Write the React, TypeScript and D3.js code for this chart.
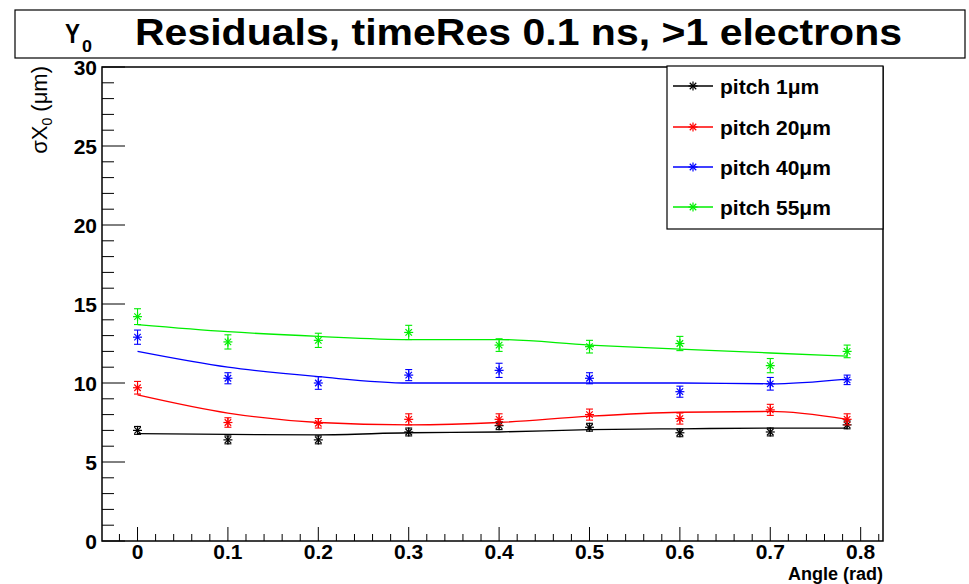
import React from 'react';
import * as d3 from 'd3';

const angles = [0, 0.1, 0.2, 0.3, 0.4, 0.5, 0.6, 0.7, 0.785];
const seriesNames = ['pitch 1μm', 'pitch 20μm', 'pitch 40μm', 'pitch 55μm'];
const seriesColors = ['#000000', '#ff0000', '#0000ff', '#00ee00'];

const pitch1 = [7.0, 6.4, 6.4, 6.9, 7.3, 7.2, 6.85, 6.9, 7.35];
const pitch1Err = [0.25, 0.25, 0.25, 0.25, 0.25, 0.25, 0.25, 0.25, 0.25];
const pitch1Fit = [6.8, 6.75, 6.72, 6.85, 6.9, 7.05, 7.1, 7.15, 7.15];

const pitch20 = [9.7, 7.5, 7.45, 7.7, 7.7, 8.0, 7.75, 8.3, 7.7];
const pitch20Err = [0.4, 0.3, 0.3, 0.35, 0.35, 0.35, 0.35, 0.35, 0.35];
const pitch20Fit = [9.25, 8.1, 7.5, 7.35, 7.5, 7.9, 8.15, 8.2, 7.7];

const pitch40 = [12.9, 10.3, 10.0, 10.5, 10.8, 10.3, 9.45, 9.95, 10.2];
const pitch40Err = [0.45, 0.35, 0.4, 0.35, 0.45, 0.35, 0.35, 0.4, 0.3];
const pitch40Fit = [12.0, 11.0, 10.4, 10.0, 10.0, 10.0, 10.0, 9.95, 10.25];

const pitch55 = [14.2, 12.6, 12.7, 13.2, 12.4, 12.3, 12.5, 11.1, 12.0];
const pitch55Err = [0.5, 0.45, 0.45, 0.45, 0.4, 0.4, 0.45, 0.45, 0.4];
const pitch55Fit = [13.7, 13.25, 12.95, 12.75, 12.75, 12.4, 12.15, 11.9, 11.7];

const seriesValues = [pitch1, pitch20, pitch40, pitch55];
const seriesErrors = [pitch1Err, pitch20Err, pitch40Err, pitch55Err];
const seriesFits = [pitch1Fit, pitch20Fit, pitch40Fit, pitch55Fit];

const xTickValues = [0, 0.1, 0.2, 0.3, 0.4, 0.5, 0.6, 0.7, 0.8];
const xTickLabels = ['0', '0.1', '0.2', '0.3', '0.4', '0.5', '0.6', '0.7', '0.8'];
const yTickValues = [0, 5, 10, 15, 20, 25, 30];
const yTickLabels = ['0', '5', '10', '15', '20', '25', '30'];

const titleText = 'Residuals, timeRes 0.1 ns, >1 electrons';
const xTitle = 'Angle (rad)';

const FONT = '"Liberation Sans", Arial, Helvetica, sans-serif';

export default function App() {
  const W = 969, H = 584;
  const fL = 102, fR = 883, fT = 67, fB = 541;
  const x = d3.scaleLinear().domain([-0.0393, 0.8247]).range([fL, fR]);
  const y = d3.scaleLinear().domain([0, 30]).range([fB, fT]);

  const line = d3.line<number>().curve(d3.curveMonotoneX);

  const xMinor = d3.range(-0.02, 0.8201, 0.02).filter(v => Math.abs(Math.round(v * 10) - v * 10) > 1e-6);
  const yMinor = d3.range(0, 31, 1).filter(v => v % 5 !== 0);

  const marker = (cx: number, cy: number, color: string, key: string) => {
    const s = 4.5;
    const d = s * 0.72;
    return (
      <g key={key} stroke={color} strokeWidth={1.2}>
        <line x1={cx - s} y1={cy} x2={cx + s} y2={cy} />
        <line x1={cx} y1={cy - s} x2={cx} y2={cy + s} />
        <line x1={cx - d} y1={cy - d} x2={cx + d} y2={cy + d} />
        <line x1={cx - d} y1={cy + d} x2={cx + d} y2={cy - d} />
      </g>
    );
  };

  const legendY = [86, 127, 167, 207];

  return (
    <svg width={W} height={H} style={{ position: 'absolute', left: 0, top: 0, background: '#fff' }}>
      <rect x={0} y={0} width={W} height={H} fill="#fff" />
      {/* Title box */}
      <rect x={15} y={10} width={950} height={48} fill="#fff" stroke="#000" strokeWidth={1.2} />
      <text x={65} y={43} fontFamily={FONT} fontSize={28} fontWeight="bold" textLength={15} lengthAdjust="spacingAndGlyphs">Y</text>
      <text x={82} y={52} fontFamily={FONT} fontSize={17} fontWeight="bold" textLength={10} lengthAdjust="spacingAndGlyphs">0</text>
      <text x={135} y={45} fontFamily={FONT} fontSize={36} fontWeight="bold" textLength={767} lengthAdjust="spacingAndGlyphs">{titleText}</text>

      {/* Fit curves */}
      {seriesFits.map((fit, i) => (
        <path key={'fit' + i} d={line(angles.map((a, j) => [x(a), y(fit[j])]) as any) || ''} fill="none" stroke={seriesColors[i]} strokeWidth={1.3} />
      ))}

      {/* Points with errors */}
      {seriesValues.map((vals, i) => (
        <g key={'s' + i}>
          {vals.map((v, j) => {
            const cx = x(angles[j]);
            const e = seriesErrors[i][j];
            const y1 = y(v + e), y2 = y(v - e);
            return (
              <g key={j}>
                <g stroke={seriesColors[i]} strokeWidth={1.1}>
                  <line x1={cx} y1={y1} x2={cx} y2={y2} />
                  <line x1={cx - 3.5} y1={y1} x2={cx + 3.5} y2={y1} />
                  <line x1={cx - 3.5} y1={y2} x2={cx + 3.5} y2={y2} />
                </g>
                {marker(cx, y(v), seriesColors[i], 'm' + j)}
              </g>
            );
          })}
        </g>
      ))}

      {/* Frame */}
      <rect x={fL} y={fT} width={fR - fL} height={fB - fT} fill="none" stroke="#000" strokeWidth={1.5} />

      {/* Y ticks */}
      {yTickValues.map((v, i) => (
        <g key={'yt' + i}>
          <line x1={fL} x2={fL + 23} y1={y(v)} y2={y(v)} stroke="#000" strokeWidth={1} />
          <text x={97} y={y(v)} dy="0.36em" textAnchor="end" fontFamily={FONT} fontWeight="bold" fontSize={21}>{yTickLabels[i]}</text>
        </g>
      ))}
      {yMinor.map(v => (
        <line key={'ym' + v} x1={fL} x2={fL + 12} y1={y(v)} y2={y(v)} stroke="#000" strokeWidth={1} />
      ))}

      {/* X ticks */}
      {xTickValues.map((v, i) => (
        <g key={'xt' + i}>
          <line x1={x(v)} x2={x(v)} y1={fB} y2={fB - 14} stroke="#000" strokeWidth={1} />
          <text x={x(v)} y={559} textAnchor="middle" fontFamily={FONT} fontWeight="bold" fontSize={21}>{xTickLabels[i]}</text>
        </g>
      ))}
      {xMinor.map((v, i) => (
        <line key={'xm' + i} x1={x(v)} x2={x(v)} y1={fB} y2={fB - 7} stroke="#000" strokeWidth={1} />
      ))}

      {/* Axis titles */}
      <text x={fR} y={580} textAnchor="end" fontFamily={FONT} fontWeight="bold" fontSize={18}>{xTitle}</text>
      <text transform="translate(47,66) rotate(-90)" textAnchor="end" fontFamily={FONT} fontSize={22}>
        σX<tspan fontSize={14} dy={5}>0</tspan><tspan dy={-5}> (μm)</tspan>
      </text>

      {/* Legend */}
      <rect x={667} y={66} width={216} height={163} fill="#fff" stroke="#000" strokeWidth={1.2} />
      {seriesNames.map((name, i) => (
        <g key={'lg' + i}>
          <line x1={673} x2={713} y1={legendY[i]} y2={legendY[i]} stroke={seriesColors[i]} strokeWidth={1.3} />
          {marker(693, legendY[i], seriesColors[i], 'lm' + i)}
          <text x={720} y={legendY[i]} dy="0.36em" fontFamily={FONT} fontWeight="bold" fontSize={21}>{name}</text>
        </g>
      ))}
    </svg>
  );
}
